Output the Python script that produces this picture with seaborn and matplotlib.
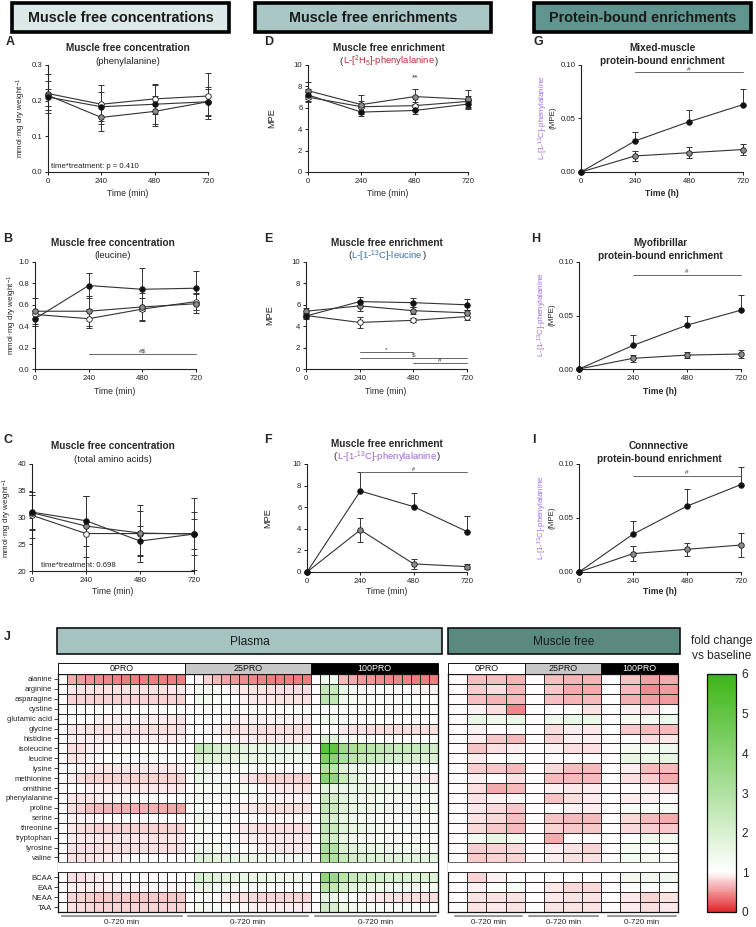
import numpy as np
import pandas as pd
import matplotlib
matplotlib.use("Agg")
import matplotlib.pyplot as plt
import seaborn as sns
from matplotlib.colors import LinearSegmentedColormap
from matplotlib.patches import Rectangle

sns.set_style("ticks")
plt.rcParams["font.family"] = ["Liberation Sans", "DejaVu Sans"]
plt.rcParams["mathtext.fontset"] = "custom"
plt.rcParams["mathtext.rm"] = "Liberation Sans"
plt.rcParams["mathtext.it"] = "Liberation Sans:italic"
plt.rcParams["mathtext.bf"] = "Liberation Sans:bold"

# ------------------------------------------------------------------ data
times = [0, 240, 480, 720]

# A: muscle free phenylalanine concentration
A_0pro = [0.220, 0.190, 0.205, 0.213]
A_0pro_err = [0.055, 0.055, 0.042, 0.065]
A_25pro = [0.215, 0.153, 0.170, 0.197]
A_25pro_err = [0.040, 0.038, 0.042, 0.037]
A_100pro = [0.210, 0.183, 0.190, 0.197]
A_100pro_err = [0.024, 0.040, 0.055, 0.040]

# B: muscle free leucine concentration
B_0pro = [0.51, 0.47, 0.56, 0.63]
B_0pro_err = [0.03, 0.09, 0.10, 0.08]
B_25pro = [0.54, 0.54, 0.58, 0.61]
B_25pro_err = [0.12, 0.14, 0.13, 0.09]
B_100pro = [0.47, 0.78, 0.745, 0.755]
B_100pro_err = [0.07, 0.12, 0.20, 0.16]

# C: muscle free total amino acids
C_0pro = [30.4, 27.0, 27.0, 27.0]
C_0pro_err = [4.3, 7.0, 5.3, 4.1]
C_25pro = [30.9, 28.4, 27.1, 26.9]
C_25pro_err = [3.3, 5.7, 4.1, 6.8]
C_100pro = [31.0, 29.4, 25.6, 26.9]
C_100pro_err = [3.2, 4.7, 2.8, 2.8]

# D: L-[2H5]-phenylalanine enrichment
D_0pro = [7.0, 6.1, 6.2, 6.6]
D_0pro_err = [0.5, 0.5, 0.3, 0.5]
D_25pro = [7.6, 6.3, 7.05, 6.8]
D_25pro_err = [0.8, 0.9, 0.7, 0.9]
D_100pro = [7.2, 5.6, 5.75, 6.35]
D_100pro_err = [0.6, 0.4, 0.3, 0.4]

# E: L-[1-13C]-leucine enrichment
E_0pro = [5.0, 4.35, 4.55, 4.9]
E_0pro_err = [0.2, 0.5, 0.2, 0.35]
E_25pro = [5.4, 5.9, 5.45, 5.25]
E_25pro_err = [0.3, 0.5, 0.3, 0.3]
E_100pro = [4.95, 6.3, 6.2, 6.0]
E_100pro_err = [0.3, 0.4, 0.4, 0.5]

# F: L-[1-13C]-phenylalanine muscle free enrichment
F_25pro = [0.0, 3.9, 0.75, 0.5]
F_25pro_err = [0.0, 1.1, 0.45, 0.25]
F_100pro = [0.0, 7.5, 6.05, 3.75]
F_100pro_err = [0.0, 1.8, 1.3, 1.45]

# G-I: protein-bound enrichments
G_25pro = [0.0, 0.015, 0.018, 0.021]
G_25pro_err = [0.0, 0.005, 0.005, 0.005]
G_100pro = [0.0, 0.029, 0.047, 0.063]
G_100pro_err = [0.0, 0.008, 0.011, 0.015]
H_25pro = [0.0, 0.010, 0.013, 0.014]
H_25pro_err = [0.0, 0.003, 0.003, 0.004]
H_100pro = [0.0, 0.022, 0.041, 0.055]
H_100pro_err = [0.0, 0.010, 0.009, 0.014]
I_25pro = [0.0, 0.017, 0.021, 0.025]
I_25pro_err = [0.0, 0.007, 0.006, 0.011]
I_100pro = [0.0, 0.035, 0.061, 0.081]
I_100pro_err = [0.0, 0.012, 0.016, 0.016]

# J: heatmap (fold change vs baseline)
aa_labels = ["alanine", "arginine", "asparagine", "cystine", "glutamic acid",
             "glycine", "histidine", "isoleucine", "leucine", "lysine",
             "methionine", "ornithine", "phenylalanine", "proline", "serine",
             "threonine", "tryptophan", "tyrosine", "valine"]
sum_labels = ["BCAA", "EAA", "NEAA", "TAA"]
group_labels = ["0PRO", "25PRO", "100PRO"]

plasma_0pro = [
    [1, .62, .55, .50, .48, .45, .44, .42, .41, .40, .40, .40, .40, .40],
    [1, .90, .88, .88, .87, .87, .88, .88, .88, .88, .88, .88, .90, .90],
    [1, .82, .80, .80, .80, .80, .80, .80, .80, .80, .80, .80, .80, .80],
    [1, 1.05, 1.1, 1.05, 1.05, 1.05, 1.05, 1.05, 1.05, 1.05, 1.05, 1.05, 1.05, 1.05],
    [1, 1.05, 1.0, 1.0, .95, .95, .92, .95, .95, .92, .92, .92, .90, .88],
    [1, .90, .90, .88, .88, .88, .87, .87, .87, .86, .86, .86, .85, .85],
    [1, .92, .92, .92, .92, .92, .92, .92, .92, .92, .92, .92, .92, .92],
    [1, .85, .85, .92, .95, 1.0, 1.05, 1.1, 1.1, 1.1, 1.1, 1.1, 1.1, 1.1],
    [1, .88, .90, .95, 1.0, 1.05, 1.1, 1.1, 1.1, 1.1, 1.1, 1.1, 1.1, 1.1],
    [1, 1.0, .95, .92, .90, .90, .90, .90, .90, .90, .90, .90, .90, .92],
    [1, .92, .85, .82, .80, .80, .80, .80, .80, .80, .80, .80, .80, .80],
    [1, 1.0, 1.0, .95, .95, .92, .92, .92, .90, .90, .90, .90, .90, .90],
    [1, .90, .88, .90, .92, .95, .97, .97, 1.0, 1.0, 1.0, 1.0, 1.0, 1.0],
    [1, .85, .80, .72, .68, .66, .65, .64, .64, .64, .64, .63, .62, .60],
    [1, .95, .95, .95, .97, 1.0, 1.0, 1.0, 1.0, 1.0, 1.0, 1.0, 1.05, 1.05],
    [1, .90, .85, .83, .82, .82, .82, .82, .82, .82, .80, .80, .80, .80],
    [1, .92, .90, .90, .90, .90, .90, .90, .90, .90, .88, .88, .90, .90],
    [1, .88, .85, .85, .85, .85, .85, .85, .85, .85, .85, .85, .85, .85],
    [1, .85, .85, .88, .90, .92, .95, .97, 1.0, 1.0, 1.0, 1.0, 1.0, 1.0],
    [1, .85, .85, .90, .92, .95, .97, 1.0, 1.0, 1.0, 1.0, 1.0, 1.0, 1.0],
    [1, .95, .92, .92, .93, .95, .95, .97, .97, .97, .97, .97, .97, .97],
    [1, .82, .80, .78, .77, .77, .76, .76, .75, .75, .75, .75, .75, .75],
    [1, .88, .85, .83, .82, .82, .82, .82, .82, .82, .82, .82, .82, .82],
]
plasma_25pro = [
    [1, .95, .80, .68, .60, .52, .48, .45, .43, .42, .41, .40, .40, .40],
    [1, 1.3, 1.25, 1.15, 1.0, .92, .90, .88, .87, .85, .85, .85, .85, .85],
    [1, 1.4, 1.35, 1.2, 1.1, 1.0, .95, .90, .90, .90, .88, .88, .88, .88],
    [1, 1.05, 1.05, 1.05, 1.05, 1.05, 1.05, 1.05, 1.05, 1.05, 1.05, 1.05, 1.05, 1.05],
    [1, 1.1, 1.05, 1.0, 1.0, .95, .95, .95, .95, .95, .95, .95, .95, .92],
    [1, 1.0, .97, .95, .90, .88, .87, .87, .85, .85, .85, .85, .85, .85],
    [1, 1.1, 1.05, 1.0, .97, .95, .93, .92, .90, .90, .90, .90, .90, .90],
    [1, 2.6, 2.4, 2.0, 1.9, 1.8, 1.7, 1.6, 1.6, 1.6, 1.5, 1.5, 1.5, 1.5],
    [1, 2.0, 1.9, 1.8, 1.7, 1.6, 1.6, 1.5, 1.5, 1.5, 1.45, 1.45, 1.4, 1.4],
    [1, 1.5, 1.4, 1.3, 1.25, 1.2, 1.2, 1.15, 1.15, 1.15, 1.1, 1.1, 1.1, 1.1],
    [1, 1.5, 1.4, 1.3, 1.1, 1.0, .90, .85, .82, .80, .80, .80, .80, .80],
    [1, 1.3, 1.3, 1.3, 1.35, 1.3, 1.3, 1.2, 1.1, .92, .90, .90, .88, .88],
    [1, 1.3, 1.25, 1.2, 1.15, 1.05, 1.0, .97, .95, .95, .95, .95, .95, .95],
    [1, 1.2, 1.1, 1.05, 1.0, .95, .92, .90, .88, .85, .85, .85, .85, .85],
    [1, 1.35, 1.3, 1.2, 1.1, 1.05, 1.0, 1.0, 1.0, .97, .97, .97, .97, .97],
    [1, 1.3, 1.2, 1.1, 1.0, .95, .90, .88, .86, .85, .85, .85, .85, .85],
    [1, 1.3, 1.25, 1.15, 1.05, 1.0, .95, .92, .92, .90, .90, .90, .90, .90],
    [1, 1.4, 1.35, 1.3, 1.2, 1.1, 1.05, 1.0, .95, .92, .90, .90, .90, .90],
    [1, 1.9, 1.8, 1.7, 1.6, 1.55, 1.5, 1.5, 1.45, 1.45, 1.4, 1.4, 1.4, 1.4],
    [1, 2.0, 1.9, 1.8, 1.7, 1.6, 1.55, 1.5, 1.5, 1.5, 1.45, 1.45, 1.45, 1.4],
    [1, 1.6, 1.5, 1.4, 1.3, 1.25, 1.2, 1.15, 1.15, 1.1, 1.1, 1.1, 1.1, 1.1],
    [1, 1.15, 1.05, 1.0, .90, .87, .85, .83, .82, .82, .80, .80, .80, .80],
    [1, 1.3, 1.25, 1.15, 1.05, 1.0, .97, .95, .95, .93, .92, .92, .92, .92],
]
plasma_100pro = [
    [1, 1.4, 1.3, .68, .62, .55, .52, .48, .46, .45, .44, .42, .42, .40],
    [1, 2.6, 2.4, 1.5, 1.3, 1.25, 1.2, 1.2, 1.15, 1.1, 1.0, .95, .95, .95],
    [1, 2.7, 2.6, 1.4, 1.3, 1.25, 1.2, 1.2, 1.2, 1.15, 1.15, 1.1, 1.1, 1.1],
    [1, 1.1, 1.1, 1.1, 1.05, 1.05, 1.05, 1.05, 1.05, 1.05, 1.05, 1.05, 1.05, 1.05],
    [1, 1.4, 1.3, 1.2, 1.15, 1.1, 1.1, 1.1, 1.05, 1.05, 1.05, 1.05, 1.05, 1.05],
    [1, 1.1, 1.05, .90, .88, .87, .86, .85, .85, .85, .85, .85, .85, .85],
    [1, 2.0, 1.8, 1.4, 1.3, 1.2, 1.15, 1.1, 1.1, 1.05, 1.05, 1.05, 1.05, 1.05],
    [1, 5.2, 5.0, 3.5, 3.2, 3.0, 2.8, 2.6, 2.6, 2.4, 2.4, 2.4, 2.3, 2.2],
    [1, 4.3, 4.0, 3.2, 2.8, 2.6, 2.4, 2.3, 2.2, 2.1, 2.0, 2.0, 1.9, 1.9],
    [1, 3.0, 2.8, 1.8, 1.5, 1.4, 1.3, 1.25, 1.2, 1.2, 1.15, 1.1, 1.1, 1.05],
    [1, 4.0, 3.8, 2.4, 1.8, 1.5, 1.3, 1.2, 1.1, 1.05, 1.0, .95, .92, .90],
    [1, 1.7, 1.6, 1.5, 1.5, 1.5, 1.5, 1.5, 1.45, 1.45, 1.4, 1.4, 1.4, 1.35],
    [1, 2.4, 2.2, 1.7, 1.5, 1.4, 1.35, 1.3, 1.3, 1.3, 1.25, 1.25, 1.2, 1.2],
    [1, 2.6, 2.4, 1.8, 1.6, 1.5, 1.45, 1.4, 1.4, 1.35, 1.3, 1.3, 1.3, 1.3],
    [1, 2.2, 2.0, 1.6, 1.4, 1.3, 1.25, 1.2, 1.2, 1.15, 1.1, 1.1, 1.05, 1.05],
    [1, 2.6, 2.4, 1.8, 1.6, 1.5, 1.4, 1.35, 1.3, 1.3, 1.25, 1.25, 1.2, 1.2],
    [1, 2.4, 2.2, 1.6, 1.4, 1.3, 1.25, 1.2, 1.2, 1.15, 1.1, 1.1, 1.1, 1.05],
    [1, 3.2, 3.0, 2.0, 1.8, 1.6, 1.5, 1.45, 1.4, 1.35, 1.3, 1.3, 1.3, 1.25],
    [1, 3.2, 3.0, 2.4, 2.2, 2.0, 1.9, 1.85, 1.8, 1.8, 1.75, 1.7, 1.7, 1.7],
    [1, 3.8, 3.6, 2.8, 2.5, 2.3, 2.2, 2.1, 2.0, 2.0, 1.95, 1.9, 1.9, 1.85],
    [1, 2.8, 2.6, 2.0, 1.7, 1.6, 1.5, 1.45, 1.4, 1.4, 1.35, 1.3, 1.3, 1.3],
    [1, 1.6, 1.5, 1.1, 1.0, .95, .92, .90, .88, .87, .86, .85, .85, .85],
    [1, 2.2, 2.0, 1.5, 1.35, 1.3, 1.25, 1.2, 1.2, 1.15, 1.15, 1.1, 1.1, 1.1],
]

muscle_0pro = [
    [1, .72, .72, .66], [1, .78, .86, .68], [1, .72, .66, .68], [1, .95, .85, .45],
    [1, 1.5, 1.4, 1.5], [1, .95, 1.0, 1.0], [1, .92, .76, .68], [1, .74, .85, .92],
    [1, .92, 1.05, 1.2], [1, .78, .76, .68], [1, .95, 1.0, .88], [1, .85, .62, .70],
    [1, .88, .95, .98], [1, .90, .84, .76], [1, .88, .84, .72], [1, .84, .76, .70],
    [1, 1.3, 1.6, 1.3], [1, .78, .80, .84], [1, .76, .80, .82],
    [1, .80, .95, 1.05], [1, .95, 1.1, 1.2], [1, .88, .88, .88], [1, .88, .90, .88],
]
muscle_25pro = [
    [1, .72, .66, .66], [1, .76, .62, .62], [1, .72, .66, .68], [1, 1.0, 1.05, .88],
    [1, 1.4, 1.5, 1.5], [1, .85, .92, .90], [1, .80, .95, .95], [1, .95, .85, .85],
    [1, 1.0, 1.05, 1.1], [1, .84, .72, .70], [1, .68, .68, .68], [1, .95, .90, .92],
    [1, .74, .85, .92], [1, 1.05, .95, .92], [1, .74, .70, .70], [1, .80, .76, .76],
    [1, .62, 1.0, 1.0], [1, .92, .88, .82], [1, .92, .88, .88],
    [1, 1.0, 1.0, 1.0], [1, .90, .84, .84], [1, .90, .88, .88], [1, .88, .88, .88],
]
muscle_100pro = [
    [1, .74, .58, .62], [1, .68, .48, .56], [1, .64, .58, .56], [1, .95, .85, 1.1],
    [1, 1.25, 1.3, 1.4], [1, .76, .70, .68], [1, 1.0, .85, .90], [1, 1.3, 1.3, 1.4],
    [1, 1.6, 1.5, 1.6], [1, .92, .68, .70], [1, .85, .78, .62], [1, 1.0, .95, .85],
    [1, .92, .95, 1.0], [1, 1.2, 1.15, 1.2], [1, .84, .70, .62], [1, .84, .78, .76],
    [1, 1.1, 1.4, 1.3], [1, 1.3, 1.1, 1.05], [1, 1.3, 1.25, 1.15],
    [1, 1.35, 1.35, 1.4], [1, 1.1, 1.1, 1.05], [1, .90, .80, .88], [1, .92, .85, .90],
]

# ------------------------------------------------------------------ layout helpers
W, H = 756, 927
fig = plt.figure(figsize=(W / 100, H / 100), dpi=100)
fig.patch.set_facecolor("white")


def rect(x0, y0, x1, y1):
    return [x0 / W, 1 - y1 / H, (x1 - x0) / W, (y1 - y0) / H]


def ftext(x, y, s, **kw):
    return fig.text(x / W, 1 - y / H, s, **kw)


def fbox(x0, y0, x1, y1, **kw):
    r = Rectangle((x0 / W, 1 - y1 / H), (x1 - x0) / W, (y1 - y0) / H,
                  transform=fig.transFigure, **kw)
    fig.add_artist(r)
    return r


LINE = "#333333"
WHITE_FC, GRAY_FC, BLACK_FC = "white", "#8c8c8c", "#111111"


def line_panel(box, series, ylim, yticks, yfmt):
    ax = fig.add_axes(rect(*box))
    for vals, elo, ehi, face in series:
        # keep whiskers inside the visible value range (display only)
        lo = [min(e, v - ylim[0]) for v, e in zip(vals, elo)]
        hi = [min(e, ylim[1] - v) for v, e in zip(vals, ehi)]
        eb = ax.errorbar(times, vals, yerr=[lo, hi], fmt="none", ecolor=LINE,
                         elinewidth=0.7, capsize=2, capthick=0.7, zorder=2)
        for art in list(eb.lines[1]) + list(eb.lines[2]):
            art.set_clip_on(False)
        sns.lineplot(x=times, y=vals, ax=ax, color=LINE, linewidth=0.8,
                     marker="o", markersize=4, markerfacecolor=face,
                     markeredgecolor="#1a1a1a", markeredgewidth=0.6,
                     errorbar=None, clip_on=False, zorder=3)
    ax.set_xlim(0, 720)
    ax.set_ylim(*ylim)
    ax.set_xticks(times)
    ax.set_yticks(yticks)
    ax.set_yticklabels([yfmt.format(t) for t in yticks])
    sns.despine(ax=ax)
    for s in ("left", "bottom"):
        ax.spines[s].set_linewidth(0.8)
        ax.spines[s].set_color("#222222")
    ax.tick_params(labelsize=5.6, length=2.5, width=0.7, pad=1.5, colors="#222222")
    ax.set_xlabel("")
    ax.set_ylabel("")
    ax.patch.set_alpha(0)
    return ax


def sig(ax, x0, x1, y, s, dy, fs=4.5):
    ax.plot([x0, x1], [y, y], color="#666666", lw=0.7, clip_on=False)
    ax.text((x0 + x1) / 2, y + dy, s, fontsize=fs, ha="center", va="bottom", color="#333333")


zeros = [0, 0, 0, 0]

# ------------------------------------------------------------------ headers
for (x0, x1, fc, txt) in [(12, 229, "#dce9e8", "Muscle free concentrations"),
                          (255, 491, "#a9c7c4", "Muscle free enrichments"),
                          (534, 751, "#5f958e", "Protein-bound enrichments")]:
    fbox(x0, 3, x1, 32, facecolor=fc, edgecolor="black", linewidth=2.6)
    ftext((x0 + x1) / 2, 18, txt, ha="center", va="center", fontsize=10.4,
          fontweight="bold", color="#1a1a1a")

# ------------------------------------------------------------------ panels A-C
axA = line_panel((48, 65, 208, 172),
                 [(A_0pro, A_0pro_err, A_0pro_err, WHITE_FC),
                  (A_25pro, A_25pro_err, A_25pro_err, GRAY_FC),
                  (A_100pro, A_100pro_err, A_100pro_err, BLACK_FC)],
                 (0, 0.3), [0.0, 0.1, 0.2, 0.3], "{:.1f}")
axA.text(15, 0.012, "time*treatment: p = 0.410", fontsize=5.6, color="#222222")

axB = line_panel((35, 262, 196, 369),
                 [(B_0pro, B_0pro_err, B_0pro_err, WHITE_FC),
                  (B_25pro, B_25pro_err, B_25pro_err, GRAY_FC),
                  (B_100pro, B_100pro_err, B_100pro_err, BLACK_FC)],
                 (0, 1.0), [0.0, 0.2, 0.4, 0.6, 0.8, 1.0], "{:.1f}")
sig(axB, 240, 720, 0.14, "#$", 0.005)

axC = line_panel((32, 464, 194, 571),
                 [(C_0pro, C_0pro_err, C_0pro_err, WHITE_FC),
                  (C_25pro, C_25pro_err, C_25pro_err, GRAY_FC),
                  (C_100pro, C_100pro_err, C_100pro_err, BLACK_FC)],
                 (20, 40), [20, 25, 30, 35, 40], "{:d}")
axC.text(40, 20.8, "time*treatment: 0.698", fontsize=5.6, color="#222222")

# ------------------------------------------------------------------ panels D-F
axD = line_panel((308, 65, 468, 172),
                 [(D_0pro, D_0pro_err, D_0pro_err, WHITE_FC),
                  (D_25pro, D_25pro_err, D_25pro_err, GRAY_FC),
                  (D_100pro, D_100pro_err, D_100pro_err, BLACK_FC)],
                 (0, 10), [0, 2, 4, 6, 8, 10], "{:d}")
axD.text(480, 8.5, "**", fontsize=6, ha="center", va="bottom", color="#333333")

axE = line_panel((306, 262, 467, 369),
                 [(E_0pro, E_0pro_err, E_0pro_err, WHITE_FC),
                  (E_25pro, E_25pro_err, E_25pro_err, GRAY_FC),
                  (E_100pro, E_100pro_err, E_100pro_err, BLACK_FC)],
                 (0, 10), [0, 2, 4, 6, 8, 10], "{:d}")
sig(axE, 240, 480, 1.55, "*", 0.05)
sig(axE, 240, 720, 1.05, "$", 0.05)
sig(axE, 480, 720, 0.55, "#", 0.05)

axF = line_panel((307, 464, 467, 572),
                 [(F_25pro, F_25pro_err, F_25pro_err, GRAY_FC),
                  (F_100pro, zeros, F_100pro_err, BLACK_FC)],
                 (0, 10), [0, 2, 4, 6, 8, 10], "{:d}")
sig(axF, 240, 720, 9.25, "#", 0.0, fs=4.0)

# ------------------------------------------------------------------ panels G-I
axG = line_panel((581, 65, 743, 172),
                 [(G_25pro, G_25pro_err, G_25pro_err, GRAY_FC),
                  (G_100pro, zeros, G_100pro_err, BLACK_FC)],
                 (0, 0.10), [0.0, 0.05, 0.10], "{:.2f}")
sig(axG, 240, 720, 0.093, "#", 0.0005)
axH = line_panel((579, 262, 741, 369),
                 [(H_25pro, H_25pro_err, H_25pro_err, GRAY_FC),
                  (H_100pro, zeros, H_100pro_err, BLACK_FC)],
                 (0, 0.10), [0.0, 0.05, 0.10], "{:.2f}")
sig(axH, 240, 720, 0.088, "#", 0.0005)
axI = line_panel((579, 464, 741, 572),
                 [(I_25pro, I_25pro_err, I_25pro_err, GRAY_FC),
                  (I_100pro, zeros, I_100pro_err, BLACK_FC)],
                 (0, 0.10), [0.0, 0.05, 0.10], "{:.2f}")
sig(axI, 240, 720, 0.089, "#", 0.0005)

# ------------------------------------------------------------------ panel texts
for lab, x, y in [("A", 10, 42), ("B", 8, 239), ("C", 8, 440), ("D", 269, 42),
                  ("E", 268, 239), ("F", 268, 440), ("G", 538, 42), ("H", 536, 239),
                  ("I", 534, 440), ("J", 7, 637)]:
    ftext(x, y, lab, fontsize=9, fontweight="bold", ha="center", va="center")

TITLE_FS, SUB_FS = 7.2, 6.8
titles = [(128, 48, "Muscle free concentration", "(phenylalanine)", "#222222", False),
          (113, 243, "Muscle free concentration", "(leucine)", "#222222", False),
          (113, 446, "Muscle free concentration", "(total amino acids)", "#222222", False),
          (389, 48, "Muscle free enrichment", "L-[$^{2}$H$_{5}$]-phenylalanine", "#b8323c", True),
          (387, 243, "Muscle free enrichment", "L-[1-$^{13}$C]-leucine", "#3a6fb0", True),
          (387, 444, "Muscle free enrichment", "L-[1-$^{13}$C]-phenylalanine", "#9a66d8", True)]
paren_jobs = []
for x, y, t1, t2, col, paren in titles:
    ftext(x, y, t1, ha="center", va="center", fontsize=TITLE_FS, fontweight="bold")
    t = ftext(x, y + 13, t2, ha="center", va="center", fontsize=SUB_FS, color=col)
    if paren:
        paren_jobs.append((t, y + 13))

for x, y, t1, t2 in [(662, 48, "Mixed-muscle", "protein-bound enrichment"),
                     (660, 243, "Myofibrillar", "protein-bound enrichment"),
                     (659, 446, "Connnective", "protein-bound enrichment")]:
    ftext(x, y, t1, ha="center", va="center", fontsize=TITLE_FS, fontweight="bold")
    ftext(x, y + 13, t2, ha="center", va="center", fontsize=TITLE_FS, fontweight="bold")

for x, y in [(128, 194), (115, 391), (113, 592), (388, 194), (386, 391), (387, 592)]:
    ftext(x, y, "Time (min)", ha="center", va="center", fontsize=6.2)
for x, y in [(662, 194), (660, 391), (660, 592)]:
    ftext(x, y, "Time (h)", ha="center", va="center", fontsize=6.2, fontweight="bold")

for x, yc in [(21, 118), (12, 315), (7, 518)]:
    ftext(x, yc, "mmol·mg dry weight$^{-1}$", rotation=90, ha="center", va="center", fontsize=5.8)
for x, yc in [(272, 118), (270, 315), (268, 518)]:
    ftext(x, yc, "MPE", rotation=90, ha="center", va="center", fontsize=6.6)
for x, yc in [(543, 118), (542, 315), (542, 518)]:
    ftext(x, yc, "L-[1-$^{13}$C]-phenylalanine", rotation=90, ha="center", va="center",
          fontsize=5.8, color="#a070e0")
    ftext(x + 10, yc, "(MPE)", rotation=90, ha="center", va="center", fontsize=5.8)

# ------------------------------------------------------------------ heatmaps
cmap = LinearSegmentedColormap.from_list(
    "fc", [(0.0, "#e2262b"), (1 / 6, "#ffffff"), (1.0, "#3cb616")])
row_labels = aa_labels + [""] + sum_labels


def build(groups):
    mat = np.hstack([np.array(g, dtype=float) for g in groups])
    blank = np.full((1, mat.shape[1]), np.nan)
    return np.vstack([mat[:len(aa_labels)], blank, mat[len(aa_labels):]])


plasma = pd.DataFrame(build([plasma_0pro, plasma_25pro, plasma_100pro]), index=row_labels)
muscle = pd.DataFrame(build([muscle_0pro, muscle_25pro, muscle_100pro]), index=row_labels)

axP = fig.add_axes(rect(58, 674, 438, 912))
axM = fig.add_axes(rect(448, 674, 678, 912))
cax = fig.add_axes(rect(707, 674, 736, 912))

sns.heatmap(plasma, ax=axP, cmap=cmap, vmin=0, vmax=6, cbar=False,
            linewidths=0.5, linecolor="#2a2a2a", xticklabels=False, yticklabels=False)
sns.heatmap(muscle, ax=axM, cmap=cmap, vmin=0, vmax=6, cbar=True, cbar_ax=cax,
            cbar_kws={"ticks": list(range(7))},
            linewidths=0.5, linecolor="#2a2a2a", xticklabels=False, yticklabels=False)

blank_i = len(aa_labels)
for ax, ncol in [(axP, plasma.shape[1]), (axM, muscle.shape[1])]:
    ax.add_patch(Rectangle((0, blank_i), ncol, 1, facecolor="white", edgecolor="none", zorder=3))
    ax.axhline(blank_i, color="#2a2a2a", lw=0.5, zorder=4)
    ax.axhline(blank_i + 1, color="#2a2a2a", lw=0.5, zorder=4)
    for s in ax.spines.values():
        s.set_visible(True)
        s.set_linewidth(0.9)
        s.set_color("#111111")
    ax.set_xlabel("")
    ax.set_ylabel("")

ytick_pos = [i + 0.5 for i, l in enumerate(row_labels) if l]
axP.set_yticks(ytick_pos)
axP.set_yticklabels([l for l in row_labels if l], fontsize=5.5)
axP.tick_params(axis="y", length=3, width=0.6, pad=1, left=True, labelrotation=0)
axM.set_yticks([])

cbar = axM.collections[0].colorbar
cbar.outline.set_linewidth(0.9)
cbar.outline.set_edgecolor("#111111")
cax.tick_params(axis="y", direction="in", left=True, right=True, labelleft=False,
                labelright=True, length=4, width=0.8, labelsize=8.6, pad=4)
ftext(722, 641, "fold change", ha="center", va="center", fontsize=8.6)
ftext(722, 656, "vs baseline", ha="center", va="center", fontsize=8.6)

# section header boxes
fbox(57, 628, 442, 654, facecolor="#a5c4c1", edgecolor="#111111", linewidth=1.2)
ftext(250, 642, "Plasma", ha="center", va="center", fontsize=8.6, color="#1a1a1a")
fbox(448, 628, 680, 654, facecolor="#5a8a7f", edgecolor="#111111", linewidth=1.2)
ftext(564, 642, "Muscle free", ha="center", va="center", fontsize=8.6, color="#1a1a1a")

# group bars
group_fc = ["white", "#c8c8c8", "black"]
group_tc = ["#111111", "#111111", "white"]
for edges in [(58, 184.7, 311.3, 438), (448, 524.7, 601.3, 678)]:
    for g in range(3):
        fbox(edges[g], 663, edges[g + 1], 674, facecolor=group_fc[g],
             edgecolor="#111111", linewidth=0.7)
        ftext((edges[g] + edges[g + 1]) / 2, 668.5, group_labels[g], ha="center",
              va="center", fontsize=6.4, color=group_tc[g])

# bottom brackets
for x0, x1 in [(62, 182), (188, 308), (315, 436), (455, 522), (529, 598), (608, 676)]:
    fig.add_artist(plt.Line2D([x0 / W, x1 / W], [1 - 916 / H, 1 - 916 / H],
                              transform=fig.transFigure, color="#9a9a9a", lw=1.5))
    ftext((x0 + x1) / 2, 923, "0-720 min", ha="center", va="center", fontsize=5.8)

# black parentheses around coloured subtitles
fig.canvas.draw()
r = fig.canvas.get_renderer()
for t, y in paren_jobs:
    bb = t.get_window_extent(renderer=r)
    ftext(bb.x0, y, "(", ha="right", va="center", fontsize=SUB_FS)
    ftext(bb.x1, y, ")", ha="left", va="center", fontsize=SUB_FS)

fig.savefig("out.png", dpi=100)
